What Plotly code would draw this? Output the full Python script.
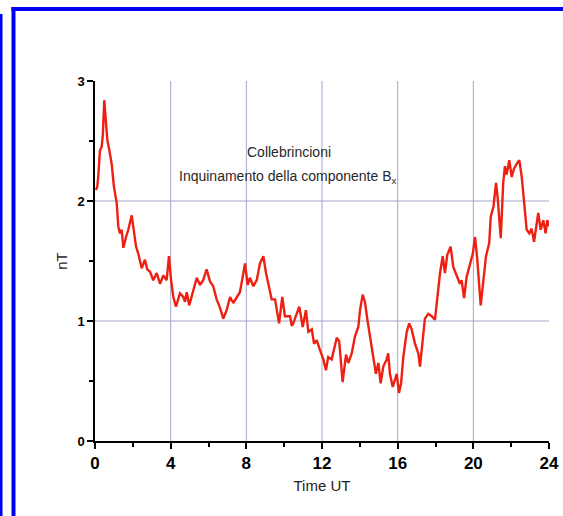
import plotly.graph_objects as go

# Time (hours UT) and Bx pollution (nT)
time_ut = [0.05, 0.12, 0.17, 0.26, 0.35, 0.41, 0.49, 0.57, 0.65, 0.76, 0.88, 1.00, 1.15, 1.23, 1.32, 1.41, 1.50,
           1.64, 1.76, 1.94, 2.02, 2.17, 2.29, 2.47, 2.64, 2.76, 2.91, 3.08, 3.26, 3.44, 3.61, 3.79, 3.91, 4.02,
           4.14, 4.28, 4.49, 4.67, 4.76, 4.85, 4.98, 5.16, 5.38, 5.55, 5.72, 5.90, 6.08, 6.25, 6.43, 6.61, 6.78,
           6.96, 7.14, 7.31, 7.49, 7.66, 7.81, 7.93, 8.07, 8.19, 8.37, 8.55, 8.72, 8.90, 9.04, 9.16, 9.34, 9.52,
           9.61, 9.73, 9.90, 10.04, 10.22, 10.31, 10.40, 10.48, 10.57, 10.66, 10.75, 10.80, 10.98, 11.15, 11.28,
           11.46, 11.58, 11.72, 11.89, 12.07, 12.21, 12.33, 12.51, 12.78, 12.91, 13.09, 13.27, 13.39, 13.57,
           13.74, 13.92, 14.01, 14.15, 14.27, 14.40, 14.54, 14.68, 14.85, 14.98, 15.10, 15.24, 15.42, 15.50,
           15.59, 15.74, 15.86, 15.95, 16.07, 16.18, 16.30, 16.48, 16.61, 16.74, 16.92, 17.09, 17.18, 17.44,
           17.62, 17.80, 17.97, 18.15, 18.24, 18.38, 18.50, 18.62, 18.80, 18.94, 19.12, 19.29, 19.38, 19.51,
           19.65, 19.82, 19.97, 20.09, 20.21, 20.39, 20.53, 20.67, 20.84, 20.92, 21.06, 21.20, 21.29, 21.45,
           21.58, 21.67, 21.76, 21.90, 22.03, 22.15, 22.29, 22.43, 22.56, 22.68, 22.82, 22.96, 23.08, 23.21,
           23.34, 23.43, 23.56, 23.70, 23.82, 23.91, 24.00]
bx_nt = [2.09, 2.12, 2.20, 2.42, 2.45, 2.54, 2.84, 2.70, 2.51, 2.42, 2.31, 2.12, 1.98, 1.79, 1.73, 1.76, 1.61,
         1.70, 1.76, 1.88, 1.79, 1.62, 1.56, 1.44, 1.51, 1.43, 1.41, 1.34, 1.40, 1.31, 1.38, 1.34, 1.54, 1.34,
         1.20, 1.12, 1.23, 1.20, 1.16, 1.24, 1.13, 1.23, 1.36, 1.30, 1.34, 1.43, 1.33, 1.29, 1.18, 1.11, 1.02,
         1.09, 1.20, 1.15, 1.20, 1.24, 1.37, 1.48, 1.30, 1.36, 1.29, 1.34, 1.48, 1.54, 1.40, 1.31, 1.18, 1.18,
         1.09, 0.98, 1.20, 1.04, 1.04, 1.04, 0.96, 0.98, 1.02, 1.06, 1.11, 1.12, 0.95, 1.09, 0.91,
         0.93, 0.81, 0.84, 0.76, 0.68, 0.59, 0.70, 0.68, 0.86, 0.83, 0.49, 0.72, 0.65, 0.73,
         0.87, 0.95, 1.09, 1.22, 1.16, 1.01, 0.87, 0.73, 0.56, 0.65, 0.48, 0.62, 0.68, 0.73,
         0.56, 0.45, 0.51, 0.56, 0.40, 0.48, 0.70, 0.91, 0.98, 0.93, 0.81, 0.73, 0.62, 1.02,
         1.06, 1.04, 1.01, 1.31, 1.40, 1.54, 1.40, 1.55, 1.62, 1.45, 1.37, 1.31, 1.34, 1.19,
         1.37, 1.48, 1.56, 1.70, 1.51, 1.13, 1.34, 1.54, 1.65, 1.87, 1.95, 2.15, 2.02, 1.69,
         2.15, 2.29, 2.22, 2.34, 2.20, 2.27, 2.31, 2.34, 2.20, 2.01, 1.76, 1.73, 1.77, 1.66,
         1.79, 1.90, 1.76, 1.84, 1.73, 1.84, 1.79]

x_ticks = [0, 4, 8, 12, 16, 20, 24]
y_ticks = [0, 1, 2, 3]
x_grid = [4, 8, 12, 16, 20]
y_grid = [1, 2]

fig = go.Figure()
fig.add_trace(go.Scatter(x=time_ut, y=bx_nt, mode="lines",
                         line=dict(color="rgb(238,32,18)", width=2.4), showlegend=False))

shapes = []
grid_color = "rgb(165,165,205)"
for gx in x_grid:
    shapes.append(dict(type="line", xref="x", yref="y", x0=gx, x1=gx, y0=0, y1=3,
                       line=dict(color=grid_color, width=1), layer="below"))
for gy in y_grid:
    shapes.append(dict(type="line", xref="x", yref="y", x0=0, x1=24, y0=gy, y1=gy,
                       line=dict(color=grid_color, width=1), layer="below"))

# blue frame (page decoration)
L, W, T, H = 95, 454, 81, 360
def px(x):
    return (x - L) / W
def py(y):
    return (T + H - y) / H
blue = "rgb(0,0,245)"
for (x0, x1, y0, y1) in [(0, 2.5, 14, 516), (11.5, 15.5, 7, 516), (11.5, 563, 7, 11)]:
    shapes.append(dict(type="rect", xref="paper", yref="paper",
                       x0=px(x0), x1=px(x1), y0=py(y1), y1=py(y0),
                       fillcolor=blue, line=dict(width=0), layer="above"))

fig.update_layout(
    width=563, height=516, autosize=False,
    margin=dict(l=L, r=563 - L - W, t=T, b=516 - T - H, autoexpand=False),
    paper_bgcolor="white", plot_bgcolor="white",
    font=dict(family="Liberation Sans, Arial, sans-serif", color="black"),
    shapes=shapes,
    annotations=[
        dict(text="Collebrincioni", xref="paper", yref="paper", x=px(289), y=py(142),
             showarrow=False, font=dict(size=14, color="rgb(40,40,40)")),
        dict(text="Inquinamento della componente B<sub>x</sub>", xref="paper", yref="paper",
             x=px(287), y=py(166), showarrow=False, font=dict(size=14, color="rgb(40,40,40)")),
    ],
)
fig.update_xaxes(range=[0, 24], tickvals=x_ticks, ticktext=[f"<b>{v}</b>" for v in x_ticks],
                 automargin=False,
                 showgrid=False, zeroline=False, showline=True, linecolor="black", linewidth=1.5,
                 ticks="outside", ticklen=6, tickwidth=1.5, tickcolor="black",
                 tickfont=dict(size=17, color="black"),
                 minor=dict(tickvals=[2, 6, 10, 14, 18, 22], ticks="outside", ticklen=4,
                            tickwidth=1.5, tickcolor="black", showgrid=False),
                 title=dict(text="Time UT", font=dict(size=15, color="rgb(30,30,30)"), standoff=8))
fig.update_yaxes(range=[0, 3], tickvals=y_ticks, ticktext=[f"<b>{v}</b>" for v in y_ticks],
                 automargin=False,
                 showgrid=False, zeroline=False, showline=True, linecolor="black", linewidth=1.5,
                 ticks="outside", ticklen=6, tickwidth=1.5, tickcolor="black",
                 tickfont=dict(size=13, color="black"),
                 minor=dict(tickvals=[0.5, 1.5, 2.5], ticks="outside", ticklen=4,
                            tickwidth=1.5, tickcolor="black", showgrid=False),
                 title=dict(text="nT", font=dict(size=15, color="rgb(30,30,30)"), standoff=6))

fig.write_html("out.html")
